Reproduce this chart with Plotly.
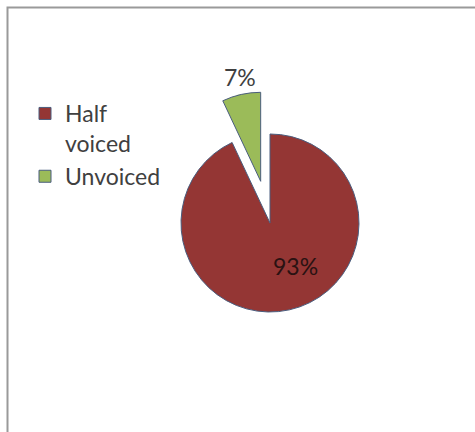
import plotly.graph_objects as go

# Share of segments by voicing class
labels = ["Half<br>voiced", "Unvoiced"]
values = [93, 7]
colors = ["#943634", "#9BBB59"]
pulls = [0, 0.48]

total = sum(values)
pct_text = [f"{round(v / total * 100)}%" for v in values]

W, H = 475, 432
font_family = "Lato, 'Open Sans', sans-serif"
font_size = 23

# Pie placement in pixels: centre and radius; plotly sizes the pie as
# min(domain) / (2 + 2 * max pull), so the domain is derived from that.
cx, cy, radius = 270, 223, 89
half = radius * (1 + max(pulls))
dom_x = [(cx - half) / W, (cx + half) / W]
dom_y = [1 - (cy + half) / H, 1 - (cy - half) / H]

fig = go.Figure(
    go.Pie(
        labels=labels,
        values=values,
        sort=False,
        direction="clockwise",
        rotation=0,
        pull=pulls,
        marker=dict(colors=colors, line=dict(color="#4a5d7e", width=1)),
        textinfo="none",
        hoverinfo="label+percent",
        domain=dict(x=dom_x, y=dom_y),
    )
)

# Percentage labels
fig.add_annotation(x=240 / W, y=1 - 77 / H, xref="paper", yref="paper",
                   xanchor="center", yanchor="middle",
                   text=pct_text[1], showarrow=False,
                   font=dict(family=font_family, size=font_size, color="#404040"))
fig.add_annotation(x=295 / W, y=1 - 266 / H, xref="paper", yref="paper",
                   xanchor="center", yanchor="middle",
                   text=pct_text[0], showarrow=False,
                   font=dict(family=font_family, size=font_size, color="#2a1212"))

# Chart-area frame
fig.add_shape(type="rect", xref="paper", yref="paper",
              x0=7.5 / W, x1=1.2, y0=-0.2, y1=1 - 7.5 / H,
              line=dict(color="#9a9a9a", width=2), fillcolor="rgba(0,0,0,0)",
              layer="below")

fig.update_layout(
    width=W,
    height=H,
    margin=dict(l=0, r=0, t=0, b=0),
    paper_bgcolor="white",
    plot_bgcolor="white",
    showlegend=True,
    legend=dict(
        x=25 / W, xanchor="left",
        y=1 - 92 / H, yanchor="top",
        valign="top",
        tracegroupgap=0,
        font=dict(family=font_family, size=font_size, color="#404040"),
        bgcolor="rgba(0,0,0,0)",
        itemclick=False,
    ),
)

fig.write_html("out.html")
